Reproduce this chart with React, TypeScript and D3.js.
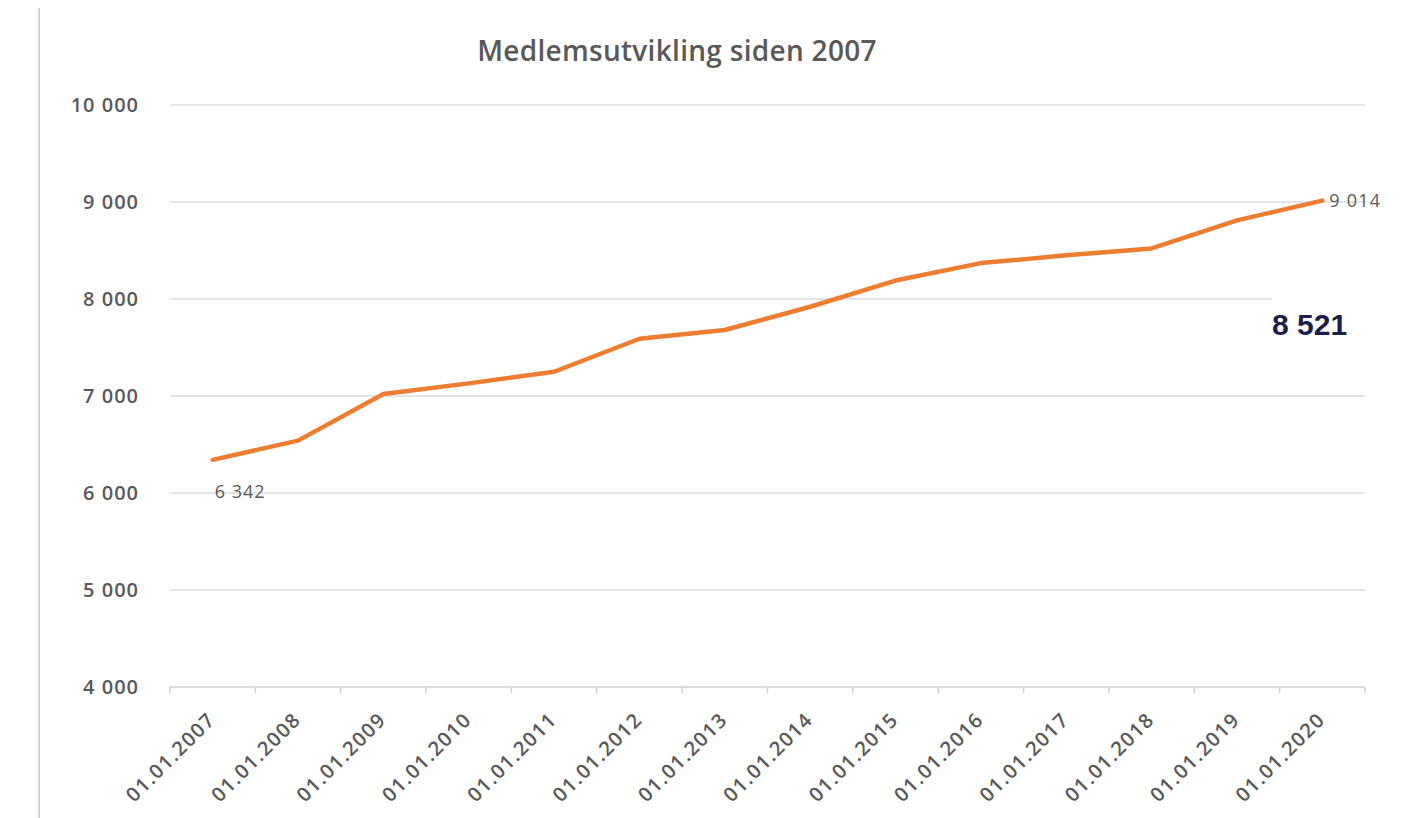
import React from "react";
import * as d3 from "d3";

const title = "Medlemsutvikling siden 2007";
const categories = [
  "01.01.2007", "01.01.2008", "01.01.2009", "01.01.2010", "01.01.2011",
  "01.01.2012", "01.01.2013", "01.01.2014", "01.01.2015", "01.01.2016",
  "01.01.2017", "01.01.2018", "01.01.2019", "01.01.2020",
];
const members = [6342, 6540, 7020, 7130, 7250, 7590, 7680, 7920, 8190, 8370, 8450, 8521, 8810, 9014];
const yTicks = [4000, 5000, 6000, 7000, 8000, 9000, 10000];
const highlightValue = 8521;

const W = 1418;
const H = 818;
const plot = { left: 170, right: 1365, top: 105, bottom: 687 };

const fmt = (v: number) => d3.format(",")(v).replace(/,/g, " ");

export default function App() {
  const x = d3.scaleBand<string>().domain(categories).range([plot.left, plot.right]);
  const y = d3.scaleLinear().domain([4000, 10000]).range([plot.bottom, plot.top]);
  const cx = (c: string) => (x(c) as number) + x.bandwidth() / 2;
  const line = d3
    .line<number>()
    .x((_, i) => cx(categories[i]))
    .y((d) => y(d));

  const first = members[0];
  const last = members[members.length - 1];
  const lastX = cx(categories[categories.length - 1]);
  const firstX = cx(categories[0]);

  const labelFont = "'Open Sans', sans-serif";
  const grey = "#595959";

  return (
    <svg width={W} height={H} style={{ position: "absolute", left: 0, top: 0, background: "#fff" }}>
      <rect x={0} y={0} width={W} height={H} fill="#fff" />
      <line x1={39} x2={39} y1={8} y2={H} stroke="#d4d4d4" strokeWidth={2} />
      <text x={677} y={61} textAnchor="middle" fontFamily={labelFont} fontWeight={600} fontSize={28} letterSpacing={0.3} fill={grey}>
        {title}
      </text>
      {yTicks.map((t) => (
        <g key={t}>
          <line x1={plot.left} x2={plot.right} y1={y(t)} y2={y(t)} stroke={t === 4000 ? "#d0d0d0" : "#dcdcdc"} strokeWidth={1.5} />
          <text x={139} y={y(t)} dy="0.36em" textAnchor="end" fontFamily={labelFont} fontWeight={600} fontSize={20} letterSpacing={1} fill={grey}>
            {fmt(t)}
          </text>
        </g>
      ))}
      {categories.map((c) => (
        <line key={"t" + c} x1={x(c)} x2={x(c)} y1={plot.bottom} y2={plot.bottom + 6} stroke="#d0d0d0" strokeWidth={1.5} />
      ))}
      <line x1={plot.right} x2={plot.right} y1={plot.bottom} y2={plot.bottom + 6} stroke="#d0d0d0" strokeWidth={1.5} />
      {categories.map((c) => (
        <text
          key={c}
          transform={`translate(${cx(c) + 4},${plot.bottom + 34}) rotate(-45)`}
          textAnchor="end"
          fontFamily={labelFont}
          fontWeight={600}
          fontSize={20}
          letterSpacing={1.4}
          fill={grey}
        >
          {c}
        </text>
      ))}
      <path d={line(members) as string} fill="none" stroke="#ED7D31" strokeWidth={4.5} strokeLinejoin="round" strokeLinecap="round" />
      <text x={firstX + 2} y={y(first) + 38} fontFamily={labelFont} fontSize={18} letterSpacing={1} fill={grey}>
        {fmt(first)}
      </text>
      <text x={lastX + 7} y={y(last)} dy="0.36em" fontFamily={labelFont} fontSize={18} letterSpacing={1.2} fill={grey}>
        {fmt(last)}
      </text>
      <rect x={1272} y={290} width={W - 1272} height={60} fill="#fff" />
      <text x={1272} y={335} fontFamily="'Liberation Sans', Arial, sans-serif" fontWeight={700} fontSize={30} fill="#1c1f4a">
        {fmt(highlightValue)}
      </text>
    </svg>
  );
}
